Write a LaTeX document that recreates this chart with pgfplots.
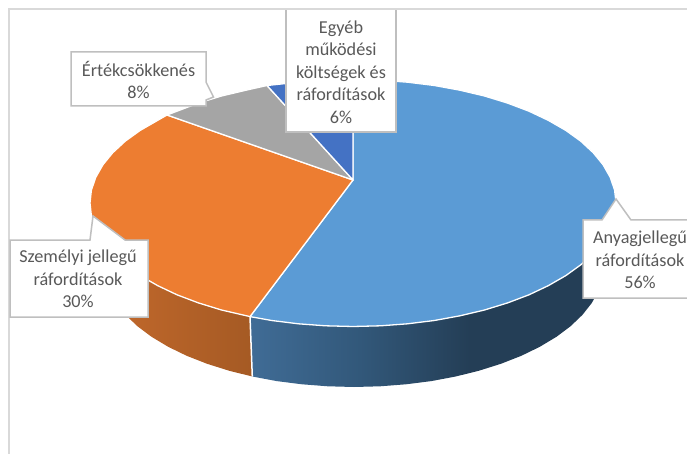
\documentclass[border=0pt]{standalone}
\usepackage{pgfplots}
\pgfplotsset{compat=1.18}
\usepackage{fontspec}
\setmainfont{Carlito}

\definecolor{bluetop}{HTML}{5B9BD5}
\definecolor{orangetop}{HTML}{ED7D31}
\definecolor{greytop}{HTML}{A5A5A5}
\definecolor{darkblue}{HTML}{4472C4}
\definecolor{labeltext}{HTML}{595959}
\definecolor{labelbox}{HTML}{BFBFBF}
\definecolor{frame}{HTML}{D9D9D9}
\definecolor{bluewallA}{RGB}{64,108,150}
\definecolor{bluewallB}{RGB}{50,88,122}
\definecolor{bluewallC}{RGB}{36,62,86}
\definecolor{orangewallA}{RGB}{197,106,44}
\definecolor{orangewallB}{RGB}{165,90,36}

% wall shadings, box edges sit at 25bp and 75bp
\pgfdeclarehorizontalshading{bluewall}{100bp}{
  color(0bp)=(bluewallA);
  color(25bp)=(bluewallA);
  color(40bp)=(bluewallB);
  color(55bp)=(bluewallC);
  color(100bp)=(bluewallC)}
\pgfdeclarehorizontalshading{orangewall}{100bp}{
  color(0bp)=(orangewallA);
  color(25bp)=(orangewallA);
  color(75bp)=(orangewallB);
  color(100bp)=(orangewallB)}

\begin{document}
\begin{tikzpicture}
\clip[use as bounding box] (0,0) rectangle (687pt,454pt);
\begin{axis}[
    anchor=south west,
    at={(0,0)},
    scale only axis,
    width=687pt,
    height=454pt,
    xmin=0, xmax=687,
    ymin=0, ymax=454,
    y dir=reverse,
    hide axis,
]
    % chart frame
    \addplot[frame, line width=1.7pt] coordinates {(9.3,454) (9.3,9.3) (687,9.3)};

    % side walls
    \addplot[draw=none, shade, shading=bluewall] coordinates {
        (250,316.6) (271.7,320.5) (298.3,323.8) (325.5,325.8) (353,326.5)
        (380.5,325.8) (407.7,323.8) (434.3,320.5) (460,315.8) (484.5,310)
        (507.6,302.9) (529,294.8) (548.4,285.6) (565.8,275.6) (580.8,264.8)
        (593.3,253.2) (603.1,241.2) (610.2,228.7) (614.6,215.9) (616,203)
        (604,265.5) (602.6,278.2) (598.5,290.8) (591.8,303) (582.4,314.9)
        (570.5,326.3) (556.3,336.9) (539.8,346.8) (521.3,355.8) (500.9,363.8)
        (479,370.7) (455.7,376.5) (431.3,381.1) (406,384.3) (380.1,386.3)
        (354,387) (327.9,386.3) (302,384.3) (276.7,381.1) (252.3,376.5)
    } -- cycle;
    \addplot[draw=none, shade, shading=orangewall] coordinates {
        (250,316.6) (221.5,310) (198.4,302.9) (177,294.8) (157.6,285.6)
        (140.2,275.6) (125.2,264.8) (112.7,253.2) (102.9,241.2) (95.8,228.7)
        (91.4,215.9) (90,203)
        (104,265.5) (105.4,278.2) (109.5,290.8) (116.2,303) (125.6,314.9)
        (137.5,326.3) (151.7,336.9) (168.2,346.8) (186.7,355.8) (207.1,363.8)
        (229,370.7) (252.3,376.5)
    } -- cycle;
    \addplot[white, line width=1.5pt] coordinates {(250,316.6) (252.3,376.5)};

    % top slices, apex at (353,180)
    \addplot[fill=bluetop, draw=white, line width=1.3pt, line join=round] coordinates {
        (353,180) (353,79.5) (380.5,80.2) (407.7,82.2) (434.3,85.5) (460,90.2)
        (484.5,96) (507.6,103.1) (529,111.2) (548.4,120.4) (565.8,130.4)
        (580.8,141.2) (593.3,152.8) (603.1,164.8) (610.2,177.3) (614.6,190.1)
        (616,203) (614.6,215.9) (610.2,228.7) (603.1,241.2) (593.3,253.2)
        (580.8,264.8) (565.8,275.6) (548.4,285.6) (529,294.8) (507.6,302.9)
        (484.5,310) (460,315.8) (434.3,320.5) (407.7,323.8) (380.5,325.8)
        (353,326.5) (325.5,325.8) (298.3,323.8) (271.7,320.5) (250,316.6)
    } -- cycle;
    \addplot[fill=orangetop, draw=white, line width=1.3pt, line join=round] coordinates {
        (353,180) (250,316.6) (221.5,310) (198.4,302.9) (177,294.8) (157.6,285.6)
        (140.2,275.6) (125.2,264.8) (112.7,253.2) (102.9,241.2) (95.8,228.7)
        (91.4,215.9) (90,203) (91.4,190.1) (95.8,177.3) (102.9,164.8)
        (112.7,152.8) (125.2,141.2) (140.2,130.4) (157.6,120.4) (167,115)
    } -- cycle;
    \addplot[fill=greytop, draw=white, line width=1.3pt, line join=round] coordinates {
        (353,180) (167,115) (177,111.2) (198.4,103.1) (221.5,96) (246,90.2) (267,85.5)
    } -- cycle;
    \addplot[fill=darkblue, draw=white, line width=1.3pt, line join=round] coordinates {
        (353,180) (267,85.5) (298.3,82.2) (325.5,80.2) (353,79.5)
    } -- cycle;

    % callouts
    \addplot[fill=white, draw=labelbox, line width=1.5pt] coordinates {
        (71,52) (206,52) (206,82) (213.5,97) (206,100) (206,106) (71,106)
    } -- cycle;
    \addplot[fill=white, draw=labelbox, line width=1.5pt] coordinates {
        (286,9.5) (396,9.5) (396,132) (286,132)
    } -- cycle;
    \addplot[frame, line width=1.7pt] coordinates {(285,9.3) (397,9.3)};
    \addplot[fill=white, draw=labelbox, line width=1.5pt] coordinates {
        (10,240) (90,240) (93,216) (125,240) (148,240) (148,317) (10,317)
    } -- cycle;
    \addplot[fill=white, draw=labelbox, line width=1.5pt] coordinates {
        (583,220) (602,220) (616,199) (631,220) (720,220) (720,298) (583,298)
    } -- cycle;

    % label text
    \begin{scope}[every node/.style={text=labeltext, font=\fontsize{18.2}{22.6}\selectfont, align=center, inner sep=0pt}]
    \node at (axis cs:138.5,80) {Értékcsökkenés\\8\%};
    \node at (axis cs:341,72) {Egyéb\\működési\\költségek és\\ráfordítások\\6\%};
    \node at (axis cs:78,279) {Személyi jellegű\\ráfordítások\\30\%};
    \node at (axis cs:640,260) {Anyagjellegű\\ráfordítások\\56\%};
    \end{scope}
\end{axis}
\end{tikzpicture}
\end{document}
